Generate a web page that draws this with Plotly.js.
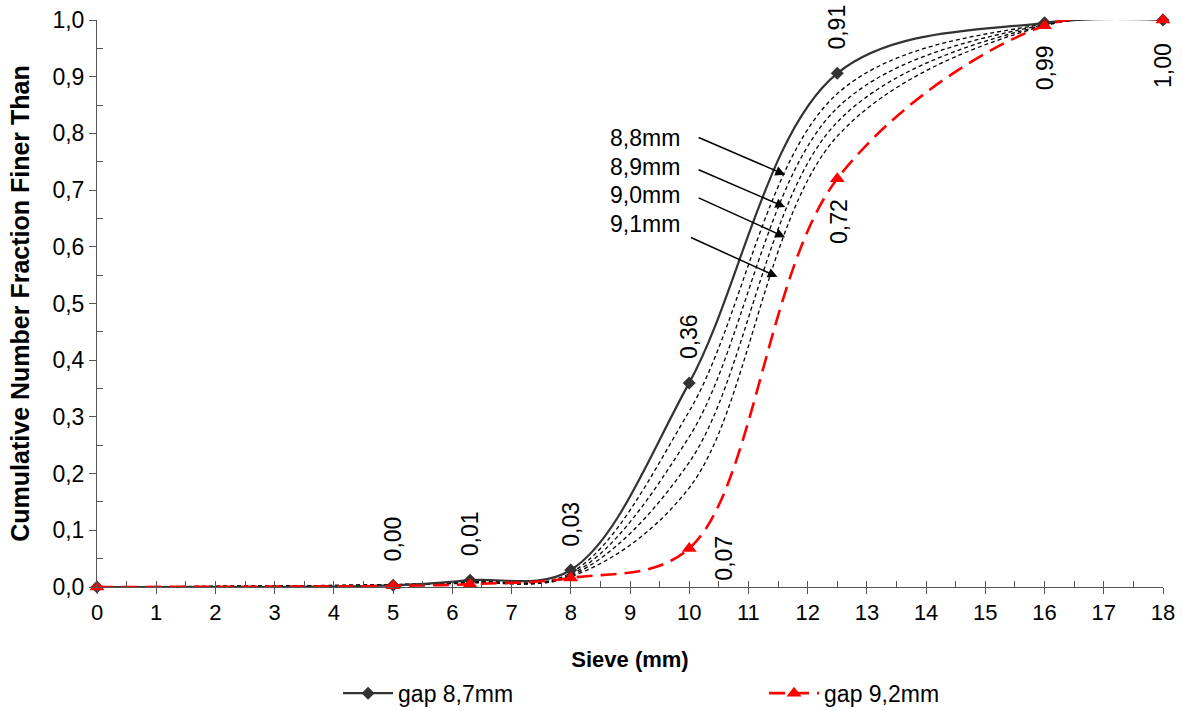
<!DOCTYPE html>
<html>
<head>
<meta charset="utf-8">
<script src="https://cdn.plot.ly/plotly-3.0.1.min.js"></script>
<style>html,body{margin:0;padding:0;background:#fff;}#chart{width:1182px;height:711px;}</style>
</head>
<body>
<div id="chart"></div>
<script>
// ---- data ----
var sieve = [0, 5, 6.3, 8, 10, 12.5, 16, 18];
var gap87 = [0, 0.003, 0.012, 0.03, 0.36, 0.906, 0.995, 1.0];
var gap88 = [0, 0.004, 0.010, 0.025, 0.31, 0.870, 0.993, 1.0];
var gap89 = [0, 0.004, 0.009, 0.022, 0.265, 0.845, 0.992, 1.0];
var gap90 = [0, 0.004, 0.008, 0.020, 0.22, 0.820, 0.991, 1.0];
var gap91 = [0, 0.004, 0.007, 0.018, 0.175, 0.795, 0.990, 1.0];
var gap92 = [0, 0.002, 0.005, 0.016, 0.068, 0.72, 0.99, 1.0];
var seriesNames = ['gap 8,7mm', 'gap 9,2mm'];
var midNames = ['8,8mm', '8,9mm', '9,0mm', '9,1mm'];
var xTickVals = [0,1,2,3,4,5,6,7,8,9,10,11,12,13,14,15,16,17,18];
var xMinorVals = [0,0.5,1,1.5,2,2.5,3,3.5,4,4.5,5,5.5,6,6.5,7,7.5,8,8.5,9,9.5,10,10.5,11,11.5,12,12.5,13,13.5,14,14.5,15,15.5,16,16.5,17,17.5,18];
var yTickVals = [0,0.1,0.2,0.3,0.4,0.5,0.6,0.7,0.8,0.9,1.0];
var yMinorVals = [0.05,0.15,0.25,0.35,0.45,0.55,0.65,0.75,0.85,0.95];
var blackLabelIdx = [1,2,3,4,5];
var redLabelIdx = [4,5,6,7];

var FONT = 'Arial, "Liberation Sans", Helvetica, sans-serif';
var fmt = function(v){ return v.toFixed(2).replace('.', ','); };

var traces = [];
// carrier for the minor-tick overlay axes (invisible)
traces.push({x: sieve, y: gap87, xaxis: 'x2', yaxis: 'y2', mode: 'lines', line: {width: 0},
  opacity: 0, showlegend: false, hoverinfo: 'skip'});
[gap88, gap89, gap90, gap91].forEach(function(arr, i){
  traces.push({
    x: sieve, y: arr, mode: 'lines', name: midNames[i], showlegend: false,
    line: {color: '#000', width: 1.3, dash: '4px,3px', shape: 'spline', smoothing: 1},
    cliponaxis: false, hoverinfo: 'skip'
  });
});
traces.push({
  x: sieve, y: gap87, mode: 'lines+markers', name: seriesNames[0],
  line: {color: '#333333', width: 2.2, shape: 'spline', smoothing: 1},
  marker: {symbol: 'diamond', size: 10, color: '#333333'},
  cliponaxis: false
});
traces.push({
  x: sieve, y: gap92, mode: 'lines+markers', name: seriesNames[1],
  line: {color: '#FF0000', width: 2.6, dash: '16px,8px', shape: 'spline', smoothing: 1},
  marker: {symbol: 'triangle-up', size: 13, color: '#FF0000'},
  cliponaxis: false
});

var ann = [];
blackLabelIdx.forEach(function(i){
  ann.push({x: sieve[i], y: gap87[i], xref: 'x', yref: 'y', text: fmt(gap87[i]),
    showarrow: false, textangle: -90, xanchor: 'center', yanchor: 'middle',
    yshift: 46, font: {family: FONT, size: 23, color: '#000'}});
});
var redShift = {4: [35, -10], 5: [1, -43], 6: [0, -42], 7: [0, -46]};
redLabelIdx.forEach(function(i){
  ann.push({x: sieve[i], y: gap92[i], xref: 'x', yref: 'y', text: fmt(gap92[i]),
    showarrow: false, textangle: -90, xanchor: 'center', yanchor: 'middle',
    xshift: redShift[i][0], yshift: redShift[i][1], font: {family: FONT, size: 23, color: '#000'}});
});
// pointer arrows
var arrowHeads = [[11.62, 0.727, -88, -38], [11.62, 0.670, -88, -38], [11.62, 0.617, -88, -40], [11.49, 0.547, -88, -40]];
var textPos = [0.792, 0.741, 0.692, 0.641];
arrowHeads.forEach(function(a, i){
  ann.push({x: a[0], y: a[1], xref: 'x', yref: 'y', text: '', showarrow: true,
    ax: a[2], ay: a[3], arrowhead: 2, arrowsize: 1.3, arrowwidth: 1.5, arrowcolor: '#000', standoff: 0, startstandoff: 0});
  ann.push({x: 9.88, y: textPos[i], xref: 'x', yref: 'y', text: midNames[i], showarrow: false,
    xanchor: 'right', yanchor: 'middle', font: {family: FONT, size: 23, color: '#000'}});
});

var layout = {
  width: 1182, height: 711,
  margin: {l: 97, r: 19, t: 20, b: 124},
  paper_bgcolor: '#fff', plot_bgcolor: '#fff',
  separators: ', ',
  font: {family: FONT, size: 23, color: '#000'},
  showlegend: true,
  legend: {orientation: 'h', x: 0.286, xanchor: 'left', xref: 'container', yref: 'container', y: 0.025, yanchor: 'middle',
    font: {family: FONT, size: 23, color: '#000'}, itemwidth: 50, entrywidth: 361, traceorder: 'normal'},
  xaxis: {
    range: [0, 18], autorange: false, tickmode: 'array', tickvals: xTickVals, ticktext: xTickVals.map(String),
    showgrid: false, zeroline: false, showline: true, linecolor: '#555', linewidth: 1,
    ticks: 'outside', ticklen: 6, tickcolor: '#555', tickwidth: 1,
    tickfont: {family: FONT, size: 22, color: '#000'},
    title: {text: '<b>Sieve (mm)</b>', font: {family: FONT, size: 22, color: '#000'}, standoff: 42}
  },
  yaxis: {
    range: [0, 1], autorange: false, tickmode: 'array', tickvals: yTickVals, ticktext: yTickVals.map(function(v){return v.toFixed(1).replace('.', ',');}),
    showgrid: false, zeroline: false, showline: true, linecolor: '#555', linewidth: 1,
    ticks: 'outside', ticklen: 7, tickcolor: '#555', tickwidth: 1,
    tickfont: {family: FONT, size: 23, color: '#000'},
    title: {text: '<b>Cumulative Number Fraction Finer Than</b>', font: {family: FONT, size: 25, color: '#000'}, standoff: 15}
  },
  xaxis2: {
    overlaying: 'x', anchor: 'y', side: 'bottom', range: [0, 18], autorange: false,
    tickmode: 'array', tickvals: xMinorVals, ticks: 'inside', ticklen: 6, tickcolor: '#555', tickwidth: 1,
    showticklabels: false, showline: false, showgrid: false, zeroline: false
  },
  yaxis2: {
    overlaying: 'y', anchor: 'x', side: 'left', range: [0, 1], autorange: false,
    tickmode: 'array', tickvals: yMinorVals, ticks: 'inside', ticklen: 6, tickcolor: '#555', tickwidth: 1,
    showticklabels: false, showline: false, showgrid: false, zeroline: false
  },
  annotations: ann
};
Plotly.newPlot('chart', traces, layout, {displayModeBar: false, staticPlot: true});
</script>
</body>
</html>
